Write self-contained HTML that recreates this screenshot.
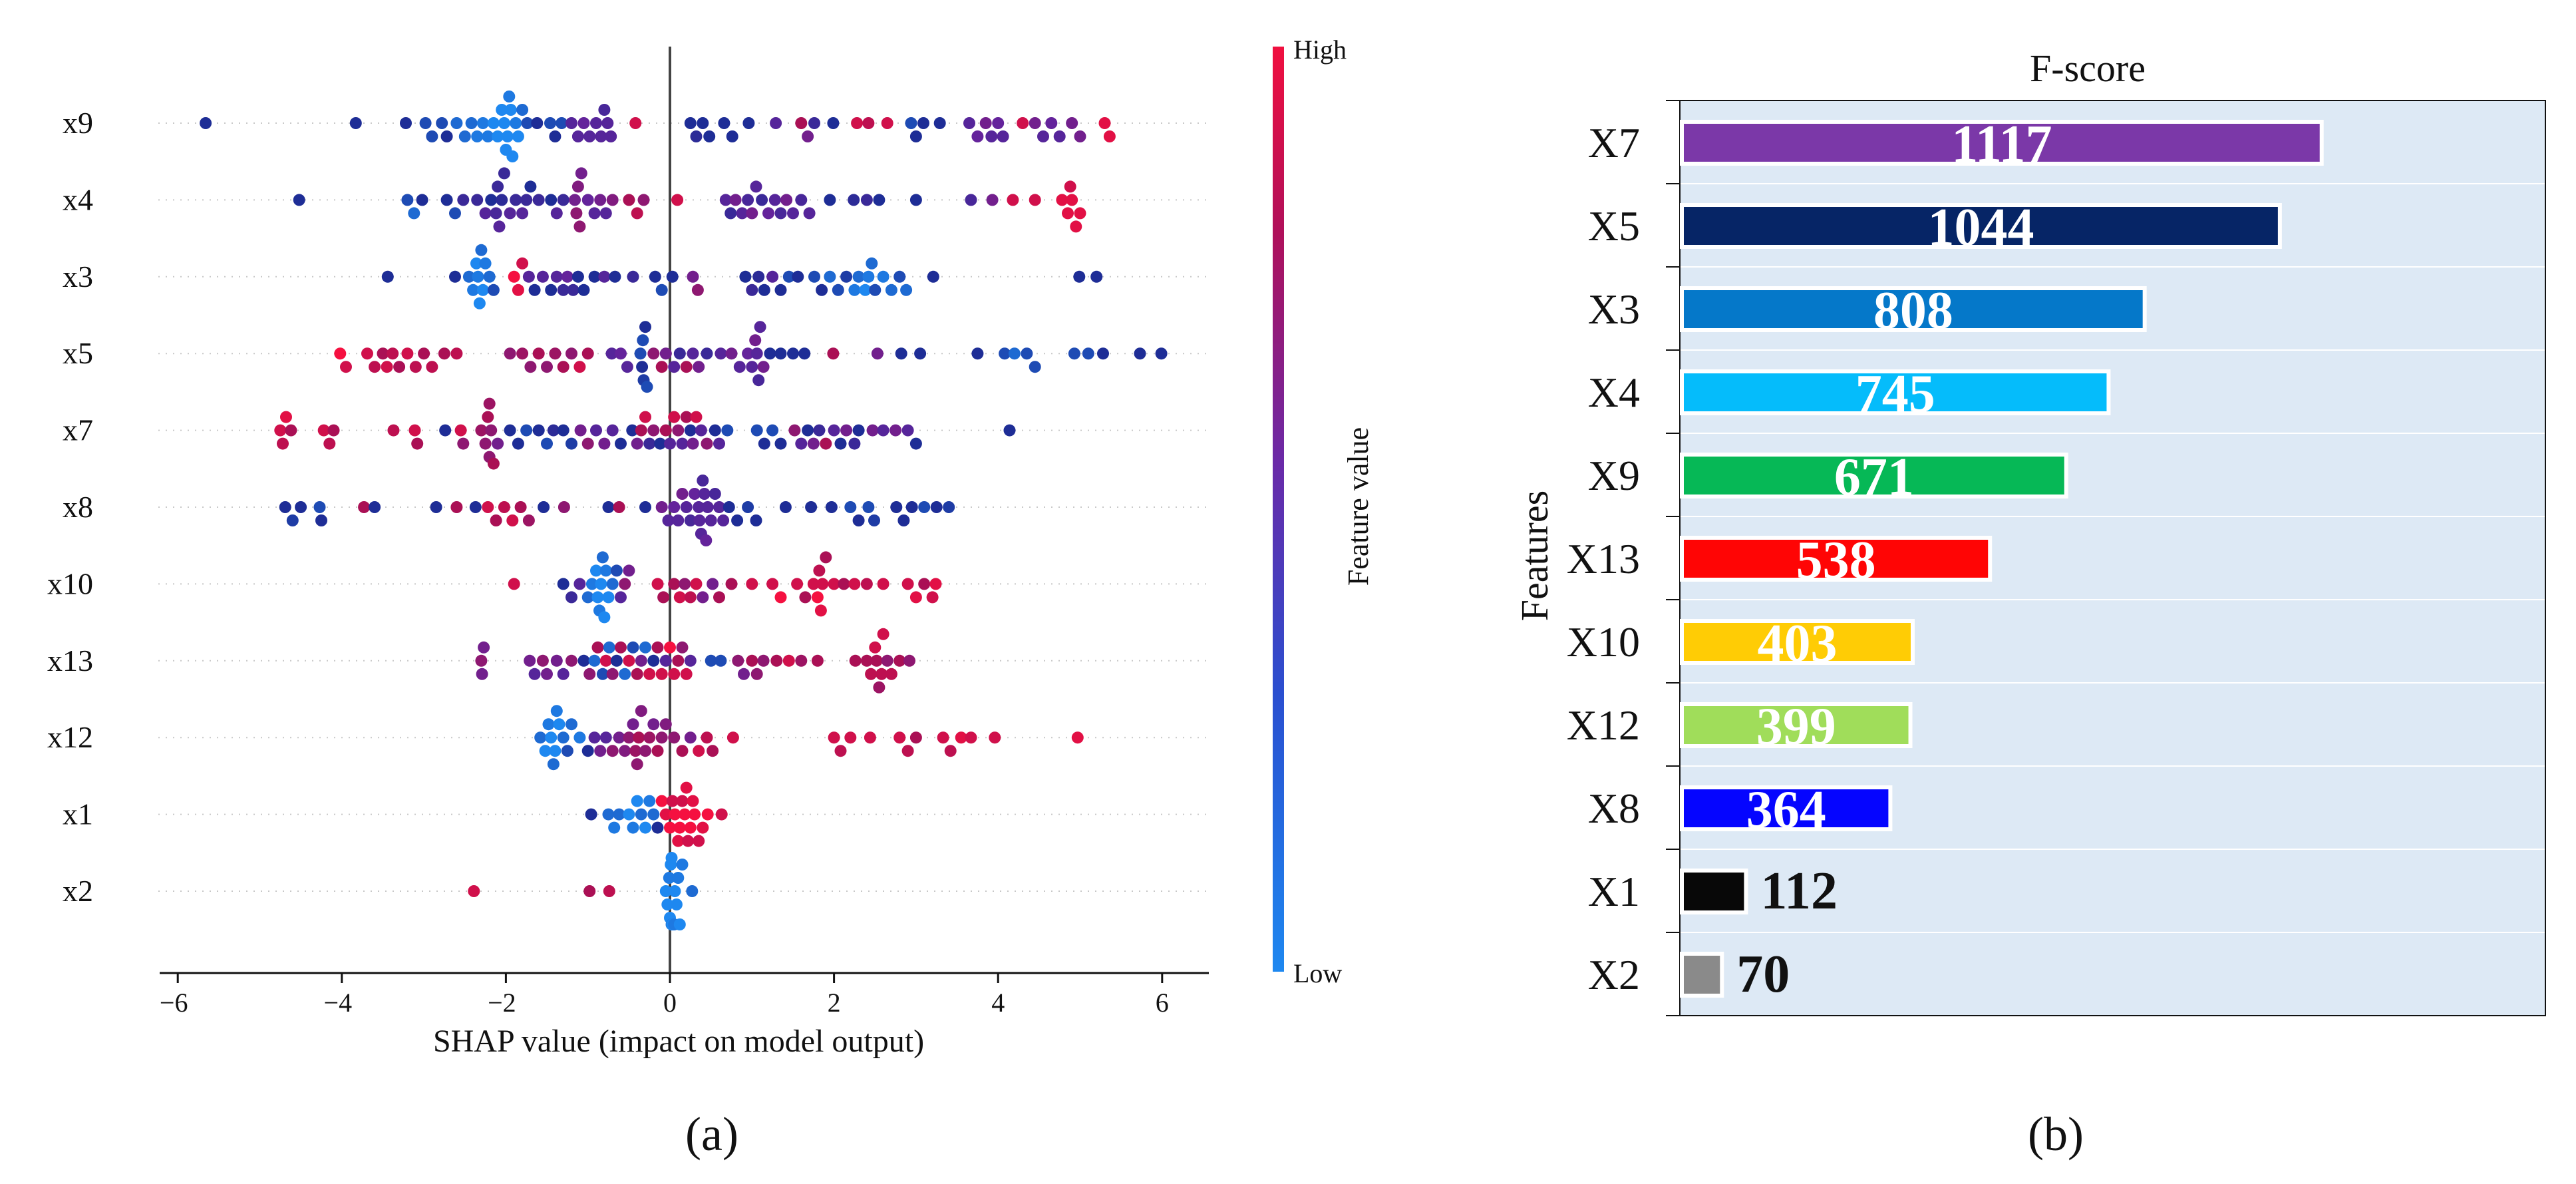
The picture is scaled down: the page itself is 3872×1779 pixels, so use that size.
<!DOCTYPE html>
<html><head><meta charset="utf-8"><style>
html,body{margin:0;padding:0;background:#fff;}
svg{display:block;font-family:"Liberation Serif",serif;}
</style></head><body>
<svg id="root" width="3872" height="1779" viewBox="0 0 3872 1779" xmlns="http://www.w3.org/2000/svg">
<defs>
<linearGradient id="cbar" x1="0" y1="1" x2="0" y2="0">
<stop offset="0" stop-color="#1e88f0"/><stop offset="0.3" stop-color="#2a4fd0"/><stop offset="0.55" stop-color="#6a2aa8"/><stop offset="0.8" stop-color="#b0105a"/><stop offset="1" stop-color="#f0103f"/>
</linearGradient>
</defs>
<g id="shap"></g>
<g id="fscore"></g>
</svg>
<script>
const NS="http://www.w3.org/2000/svg";
// ---------- SHAP data ----------
const shapFeatures=["x9","x4","x3","x5","x7","x8","x10","x13","x12","x1","x2"];
const shapTicks=[-6,-4,-2,0,2,4,6];
const shapX9=[-5.66,-3.83,-3.22,-2.98,-2.9,-2.78,-2.72,-2.6,-2.5,-2.42,-2.35,-2.28,-2.22,-2.15,-2.1,-2.05,-2.02,-2.0,-1.98,-1.96,-1.94,-1.92,-1.88,-1.85,-1.8,-1.74,-1.62,-1.46,-1.4,-1.32,-1.2,-1.12,-1.05,-0.98,-0.9,-0.84,-0.8,-0.76,-0.72,-0.42,0.25,0.32,0.4,0.48,0.66,0.76,0.96,1.29,1.6,1.68,1.76,1.99,2.28,2.42,2.65,2.94,3.0,3.09,3.29,3.65,3.75,3.85,3.92,4.0,4.06,4.3,4.45,4.55,4.65,4.75,4.9,5.0,5.3,5.36];
const featX9=[.3,.3,.3,.2,.2,.2,.3,.1,.1,.1,.05,.05,.05,0,0,0,0,0,0,.05,0,0,.05,0,.1,.2,.3,.2,.3,.2,.5,.5,.55,.5,.5,.5,.45,.5,.5,.9,.3,.35,.3,.3,.3,.3,.3,.5,.8,.6,.4,.3,.9,.85,.9,.2,.3,.3,.3,.5,.55,.6,.5,.55,.5,.9,.6,.5,.55,.5,.6,.6,.95,.95];
const shapX4=[-4.52,-3.2,-3.12,-3.02,-2.72,-2.62,-2.52,-2.35,-2.25,-2.18,-2.12,-2.1,-2.08,-2.05,-2.02,-1.95,-1.88,-1.8,-1.75,-1.7,-1.6,-1.45,-1.38,-1.3,-1.16,-1.14,-1.12,-1.1,-1.08,-1.0,-0.92,-0.85,-0.78,-0.7,-0.5,-0.4,-0.32,0.09,0.68,0.74,0.8,0.88,0.95,1.0,1.05,1.12,1.2,1.28,1.35,1.42,1.5,1.6,1.7,1.95,2.24,2.4,2.55,3.0,3.67,3.93,4.18,4.45,4.78,4.85,4.9,4.95,5.0,4.88];
const featX4=[.3,.2,.1,.3,.3,.2,.4,.4,.5,.3,.45,.4,.5,.35,.4,.5,.4,.5,.4,.3,.4,.3,.5,.4,.6,.7,.65,.7,.6,.55,.5,.6,.5,.65,.8,.85,.7,.9,.5,.4,.6,.5,.45,.6,.5,.4,.55,.5,.45,.6,.5,.45,.5,.3,.35,.4,.3,.3,.45,.6,.9,.9,.95,.95,.95,.95,.95,.9];
const shapX3=[-3.44,-2.62,-2.45,-2.4,-2.36,-2.34,-2.32,-2.3,-2.28,-2.25,-2.2,-2.15,-1.9,-1.85,-1.8,-1.72,-1.65,-1.55,-1.45,-1.38,-1.3,-1.25,-1.18,-1.12,-1.05,-0.92,-0.8,-0.67,-0.45,-0.18,-0.1,0.03,0.28,0.34,0.92,1.0,1.08,1.15,1.25,1.35,1.45,1.56,1.76,1.85,1.95,2.05,2.15,2.25,2.3,2.38,2.42,2.46,2.5,2.6,2.7,2.8,2.88,3.21,4.99,5.2];
const featX3=[.3,.3,.1,.05,0,.05,0,.1,0,.05,.1,.2,1,.95,.9,.5,.3,.5,.3,.5,.4,.55,.4,.3,.3,.3,.5,.3,.4,.3,.2,.3,.6,.7,.3,.4,.35,.3,.5,.3,.2,.3,.2,.3,.1,.2,.25,.05,.1,0,.05,.1,.2,.05,.1,.2,.1,.3,.3,.3];
const shapX5=[-4.02,-3.95,-3.69,-3.6,-3.5,-3.45,-3.38,-3.3,-3.2,-3.1,-3.0,-2.9,-2.75,-2.6,-1.95,-1.8,-1.7,-1.6,-1.5,-1.4,-1.3,-1.2,-1.1,-1.0,-0.71,-0.6,-0.52,-0.36,-0.34,-0.33,-0.32,-0.3,-0.28,-0.2,-0.1,-0.05,0.05,0.12,0.2,0.28,0.35,0.45,0.62,0.75,0.85,0.95,1.0,1.04,1.06,1.08,1.1,1.14,1.22,1.35,1.5,1.64,1.99,2.53,2.82,3.05,3.75,4.08,4.2,4.35,4.45,4.93,5.1,5.28,5.73,5.99];
const featX5=[1,.9,.9,.85,.8,.9,.85,.8,.9,.85,.8,.85,.8,.85,.7,.75,.7,.8,.7,.75,.8,.7,.9,.8,.5,.55,.5,.2,.3,.2,.25,.3,.2,.7,.8,.6,.5,.4,.8,.5,.6,.4,.5,.6,.5,.55,.5,.6,.5,.45,.5,.6,.3,.3,.3,.3,.8,.6,.3,.3,.3,.2,.1,.2,.2,.2,.2,.3,.3,.3];
const shapX7=[-4.75,-4.72,-4.68,-4.62,-4.22,-4.15,-4.1,-3.37,-3.11,-3.08,-2.74,-2.55,-2.52,-2.3,-2.25,-2.22,-2.2,-2.2,-2.18,-2.15,-2.1,-1.95,-1.85,-1.75,-1.6,-1.5,-1.42,-1.3,-1.2,-1.09,-1.0,-0.9,-0.8,-0.7,-0.6,-0.46,-0.4,-0.35,-0.3,-0.25,-0.2,-0.12,-0.05,0.0,0.05,0.1,0.15,0.2,0.25,0.28,0.32,0.38,0.45,0.55,0.6,0.7,1.06,1.15,1.25,1.35,1.52,1.6,1.68,1.75,1.82,1.9,2.0,2.08,2.15,2.25,2.3,2.47,2.6,2.75,2.9,3.0,4.14];
const featX7=[.9,.85,.95,.8,.9,.85,.8,.85,.9,.8,.3,.9,.7,.75,.7,.8,.7,.75,.7,.8,.6,.3,.3,.2,.3,.2,.35,.3,.25,.6,.7,.5,.6,.5,.3,.3,.6,.8,.9,.4,.7,.3,.8,.5,.9,.7,.5,.8,.3,.6,.9,.5,.7,.3,.5,.2,.2,.3,.2,.3,.7,.5,.3,.6,.4,.8,.5,.3,.6,.4,.3,.6,.5,.6,.5,.3,.3];
const shapX8=[-4.69,-4.6,-4.5,-4.27,-4.25,-3.73,-3.6,-2.85,-2.6,-2.37,-2.22,-2.12,-2.02,-1.92,-1.82,-1.72,-1.54,-1.29,-0.75,-0.62,-0.3,-0.1,-0.02,0.05,0.1,0.15,0.2,0.25,0.3,0.35,0.36,0.38,0.4,0.42,0.44,0.46,0.5,0.55,0.6,0.65,0.72,0.82,0.95,1.05,1.41,1.72,1.97,2.2,2.3,2.42,2.49,2.76,2.85,2.95,3.1,3.25,3.4];
const featX8=[.3,.25,.3,.2,.3,.8,.3,.3,.8,.3,.9,.8,.85,.9,.8,.75,.3,.7,.3,.8,.3,.6,.5,.55,.5,.6,.5,.45,.55,.5,.5,.5,.45,.5,.55,.5,.5,.45,.5,.5,.3,.3,.25,.3,.3,.3,.3,.2,.3,.2,.25,.3,.3,.3,.2,.3,.25];
const shapX10=[-1.9,-1.3,-1.2,-1.1,-1.0,-0.95,-0.9,-0.88,-0.86,-0.84,-0.82,-0.8,-0.78,-0.75,-0.7,-0.65,-0.6,-0.55,-0.5,-0.15,-0.08,0.05,0.12,0.18,0.25,0.32,0.4,0.52,0.6,0.75,1.0,1.25,1.35,1.55,1.65,1.75,1.8,1.82,1.84,1.86,1.9,2.0,2.12,2.25,2.4,2.6,2.9,3.0,3.1,3.2,3.24];
const featX10=[.9,.3,.4,.5,.1,.05,0,0,.05,0,.1,0,.05,0,.1,.2,.5,.7,.6,.9,.8,.8,.9,.7,.85,.9,.6,.6,.8,.8,.9,.9,1,.9,.8,.9,1,.85,.95,.9,.8,.9,.8,.9,.85,.9,.9,.95,.8,.9,.95];
const shapX13=[-2.29,-2.3,-2.27,-1.71,-1.65,-1.55,-1.5,-1.38,-1.3,-1.2,-1.05,-0.98,-0.92,-0.88,-0.82,-0.78,-0.74,-0.7,-0.65,-0.6,-0.55,-0.5,-0.45,-0.4,-0.35,-0.3,-0.25,-0.2,-0.15,-0.1,-0.05,0.0,0.05,0.1,0.15,0.2,0.25,0.5,0.62,0.83,0.9,1.0,1.06,1.14,1.3,1.45,1.6,1.8,2.26,2.4,2.45,2.5,2.52,2.55,2.58,2.6,2.65,2.7,2.8,2.92];
const featX13=[.6,.7,.6,.6,.5,.7,.6,.6,.5,.7,.3,.7,.1,.8,.2,.9,.1,.7,.3,.8,.1,.9,.2,.8,.6,.1,.9,.3,.8,.9,.5,1,.9,.8,.7,.9,.5,.2,.2,.7,.6,.8,.7,.7,.8,.9,.75,.8,.8,.8,.85,.9,.8,.75,.85,.9,.7,.85,.8,.7];
const shapX12=[-1.58,-1.52,-1.48,-1.45,-1.42,-1.4,-1.38,-1.35,-1.3,-1.25,-1.2,-1.1,-1.0,-0.92,-0.85,-0.78,-0.7,-0.62,-0.55,-0.5,-0.45,-0.42,-0.4,-0.38,-0.35,-0.3,-0.25,-0.2,-0.15,-0.1,-0.05,0.05,0.15,0.25,0.35,0.45,0.52,0.77,2.0,2.08,2.2,2.44,2.8,2.9,3.0,3.33,3.42,3.55,3.67,3.96,4.97];
const featX12=[.1,0,.05,0,.1,0,.05,0,.1,.2,.1,.05,.3,.5,.6,.5,.7,.6,.65,.7,.6,.75,.7,.8,.65,.7,.75,.6,.8,.7,.65,.7,.8,.6,.9,.85,.8,.9,.9,.85,.9,.9,.9,.85,.8,.9,.85,.95,.9,.9,.95];
const shapX1=[-0.96,-0.75,-0.68,-0.62,-0.5,-0.45,-0.4,-0.35,-0.3,-0.25,-0.2,-0.15,-0.1,-0.05,0.0,0.03,0.06,0.1,0.12,0.15,0.18,0.2,0.22,0.25,0.28,0.3,0.35,0.4,0.46,0.63];
const featX1=[.3,.1,.05,.1,0,.05,0,.1,0,.05,.1,.3,1,.95,1,.9,1,.95,1,.9,1,.95,.9,1,.95,1,.9,.95,1,.9];
const shapX2=[-2.39,-0.98,-0.74,-0.05,-0.03,-0.01,0.0,0.01,0.02,0.02,0.03,0.04,0.05,0.06,0.08,0.1,0.12,0.15,0.27];
const featX2=[.9,.8,.85,0,0,.05,0,0,.05,0,0,0,.05,0,0,.05,0,.05,.1];
const shapRows=[[shapX9,featX9],[shapX4,featX4],[shapX3,featX3],[shapX5,featX5],[shapX7,featX7],[shapX8,featX8],[shapX10,featX10],[shapX13,featX13],[shapX12,featX12],[shapX1,featX1],[shapX2,featX2]];

// ---------- F-score data ----------
const fFeatures=["X7","X5","X3","X4","X9","X13","X10","X12","X8","X1","X2"];
const fScores=[1117,1044,808,745,671,538,403,399,364,112,70];
const fColors=["#7b38a8","#062566","#0578c9","#05bcfb","#06b856","#ff0505","#ffcc05","#a0dd5a","#0505ff","#080808","#8a8a8a"];

function el(tag,attrs,parent,text){const e=document.createElementNS(NS,tag);for(const k in attrs)e.setAttribute(k,attrs[k]);if(text!==undefined)e.textContent=text;parent.appendChild(e);return e;}

// ---------- SHAP plot ----------
(function(){
const g=document.getElementById('shap');
const x=v=>1007+123.3*v;
const rowY=i=>185+115.4*i;
const axisY=1462;
const stops=[[0,[30,136,240]],[0.3,[30,45,150]],[0.55,[100,35,155]],[0.8,[170,16,85]],[1,[245,16,64]]];
function col(c){if(c===undefined)c=0.5;for(let i=1;i<stops.length;i++){if(c<=stops[i][0]){const a=stops[i-1],b=stops[i];const t=(c-a[0])/(b[0]-a[0]);const r=a[1].map((v,k)=>Math.round(v+(b[1][k]-v)*t));return `rgb(${r[0]},${r[1]},${r[2]})`;}}return 'rgb(245,16,64)';}
shapFeatures.forEach((f,i)=>{
  const ln=el('line',{x1:238,x2:1817,y1:rowY(i),y2:rowY(i),stroke:'#c8c8c8','stroke-width':2,'stroke-dasharray':'2 9'},g);
  
  
  const t=el('text',{x:140,y:rowY(i)+15,'text-anchor':'end','font-size':46,fill:'#111'},g,f);
  
  
});
const z=el('line',{x1:x(0),x2:x(0),y1:70,y2:axisY,stroke:'#444','stroke-width':4},g);


shapRows.forEach((row,i)=>{
  const vals=row[0],feats=row[1];
  const idx=vals.map((v,k)=>k).sort((a,b)=>vals[a]-vals[b]);
  const placed=[];
  const dg=el('g',{},g);
  
  
  idx.forEach(k=>{
    const px=x(vals[k]);let off=0;
    for(let s=0;s<14;s++){
      const cand=s===0?0:(s%2?1:-1)*Math.ceil(s/2)*10;
      let ok=true;
      for(const p of placed){if(Math.abs(p[0]-px)<13&&Math.abs(p[1]-cand)<13){ok=false;break;}}
      if(ok){off=cand;break;}
      off=cand;
    }
    if(Math.abs(off)>50)off=(off>0?1:-1)*50;
    placed.push([px,off]);
    const c=el('circle',{cx:px.toFixed(1),cy:(rowY(i)+off).toFixed(1),r:9,fill:col(feats[k])},dg);
    
    
  });
});
const ax=el('line',{x1:240,x2:1817,y1:axisY,y2:axisY,stroke:'#111','stroke-width':3},g);


shapTicks.forEach(t=>{
  const tk=el('line',{x1:x(t),x2:x(t),y1:axisY,y2:axisY+15,stroke:'#111','stroke-width':3},g);
  
  
  const lb=el('text',{x:x(t)-(t<0?6:0),y:1520,'text-anchor':'middle','font-size':40,fill:'#111'},g,t<0?'\u2212'+Math.abs(t):String(t));
  
  
});
const xt=el('text',{x:1020,y:1580,'text-anchor':'middle','font-size':48,fill:'#111'},g,'SHAP value (impact on model output)');


const cb=el('rect',{x:1913,y:70,width:17,height:1390,fill:'url(#cbar)'},g);


const hi=el('text',{x:1944,y:88,'font-size':40,fill:'#111'},g,'High');


const lo=el('text',{x:1944,y:1476,'font-size':40,fill:'#111'},g,'Low');


const fv=el('text',{x:0,y:0,'text-anchor':'middle','font-size':44,fill:'#111',transform:'translate(2056,761) rotate(-90)'},g,'Feature value');


const pa=el('text',{x:1070,y:1728,'text-anchor':'middle','font-size':72,fill:'#111'},g,'(a)');


})();

// ---------- F-score chart ----------
(function(){
const g=document.getElementById('fscore');
const L=2525,R=3826,T=151,rowH=125,n=fFeatures.length,B=T+rowH*n;
const x0=2528,k=0.861;
const bg=el('rect',{x:L,y:T,width:R-L,height:B-T,fill:'#dde9f5',stroke:'#111','stroke-width':2},g);


for(let i=1;i<n;i++){
  const s=el('line',{x1:L+1,x2:R-1,y1:T+rowH*i,y2:T+rowH*i,stroke:'#fff','stroke-width':2},g);
  
  
}
for(let i=0;i<=n;i++){
  const tk=el('line',{x1:2504,x2:L,y1:T+rowH*i,y2:T+rowH*i,stroke:'#111','stroke-width':2},g);
  
  
}
fFeatures.forEach((f,i)=>{
  const top=T+rowH*i;
  const w=fScores[i]*k;
  const b=el('rect',{x:x0,y:top+32,width:w,height:63,fill:fColors[i],stroke:'#fff','stroke-width':6},g);
  
  
  const lb=el('text',{x:2465,y:top+85,'text-anchor':'end','font-size':64,fill:'#111'},g,f);
  
  
  let vt;
  if(fScores[i]>=300){
    vt=el('text',{x:x0+w/2,y:top+92,'text-anchor':'middle','font-size':80,'font-weight':'bold',fill:'#fff'},g,String(fScores[i]));
  }else{
    vt=el('text',{x:x0+w+22,y:top+89,'text-anchor':'start','font-size':80,'font-weight':'bold',fill:'#111'},g,String(fScores[i]));
  }
  
  
});
const ti=el('text',{x:3138,y:122,'text-anchor':'middle','font-size':58,fill:'#111'},g,'F-score');


const yt=el('text',{x:0,y:0,'text-anchor':'middle','font-size':58,fill:'#111',transform:'translate(2326,835) rotate(-90)'},g,'Features');


const pb=el('text',{x:3090,y:1728,'text-anchor':'middle','font-size':72,fill:'#111'},g,'(b)');


})();
</script>
</body></html>
